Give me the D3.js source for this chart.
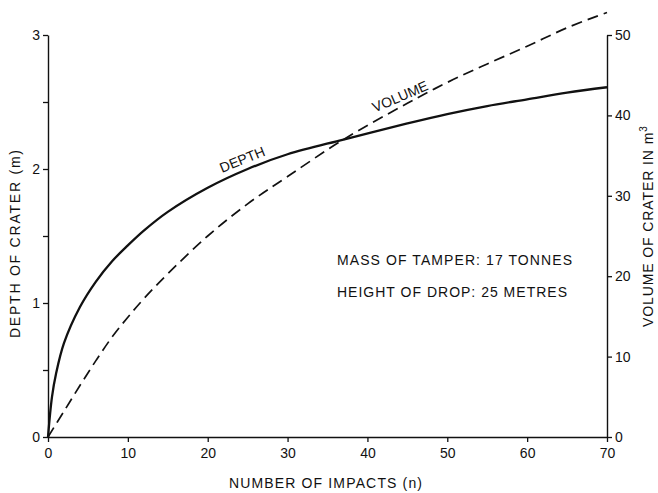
<!DOCTYPE html>
<html>
<head>
<meta charset="utf-8">
<script src="https://cdn.jsdelivr.net/npm/d3@7"></script>
<style>
  body { margin: 0; background: #fff; }
  text { font-family: "Liberation Sans", Arial, sans-serif; fill: #111; }
</style>
</head>
<body>
<svg id="chart" width="658" height="493"></svg>
<script>
// Crater depth (m) against number of impacts
const impactsDepth = [0, 0.5, 1, 2, 4, 6, 8, 10, 12, 15, 20, 25, 30, 37, 45, 50, 55, 60, 65, 70];
const depthM       = [0, 0.30, 0.47, 0.70, 0.97, 1.16, 1.31, 1.43, 1.54, 1.68, 1.86, 2.00, 2.11, 2.22, 2.34, 2.41, 2.47, 2.52, 2.57, 2.61];

// Crater volume (m3) against number of impacts
const impactsVolume = [0, 2, 4, 6, 8, 10, 12, 15, 20, 25, 30, 37, 45, 50, 55, 60, 65, 70];
const volumeM3      = [0, 3.2, 6.4, 9.5, 12.4, 14.9, 17.2, 20.3, 25.0, 29.0, 32.4, 37.0, 41.5, 44.1, 46.4, 48.6, 50.9, 52.8];

const xTicks      = [0, 10, 20, 30, 40, 50, 60, 70];
const depthTicks  = [0, 0.5, 1, 1.5, 2, 2.5, 3];
const depthLabels = [0, 1, 2, 3];
const volumeTicks = [0, 10, 20, 30, 40, 50];

const svg = d3.select("#chart");
const ink = "#111";

const x  = d3.scaleLinear().domain([0, 70]).range([48, 607]);
const yD = d3.scaleLinear().domain([0, 3]).range([437, 35]);
const yV = d3.scaleLinear().domain([0, 50]).range([437, 35]);

function styleAxis(g) {
  g.selectAll("path.domain").attr("stroke", ink).attr("stroke-width", 1.4);
  g.selectAll(".tick line").attr("stroke", ink).attr("stroke-width", 1.3);
  g.selectAll(".tick text").attr("font-size", 14).attr("fill", ink)
    .style("font-family", "'Liberation Sans', Arial, sans-serif");
}

// bottom axis
svg.append("g")
  .attr("transform", `translate(0,${yD(0)})`)
  .call(d3.axisBottom(x).tickValues(xTicks).tickSize(5).tickSizeOuter(0).tickPadding(6))
  .call(styleAxis);

// left axis (depth), half-metre minor ticks without labels
svg.append("g")
  .attr("transform", `translate(${x(0)},0)`)
  .call(d3.axisLeft(yD).tickValues(depthTicks).tickSize(5).tickSizeOuter(0).tickPadding(3)
    .tickFormat(d => depthLabels.includes(d) ? d3.format("d")(d) : ""))
  .call(styleAxis);

// right axis (volume)
svg.append("g")
  .attr("transform", `translate(${x(70)},0)`)
  .call(d3.axisRight(yV).tickValues(volumeTicks).tickSize(5).tickSizeOuter(0).tickPadding(3)
    .tickFormat(d3.format("d")))
  .call(styleAxis);

// curves
const depthLine = d3.line()
  .x((d, i) => x(impactsDepth[i]))
  .y(d => yD(d))
  .curve(d3.curveCatmullRom.alpha(0.5));

const volumeLine = d3.line()
  .x((d, i) => x(impactsVolume[i]))
  .y(d => yV(d))
  .curve(d3.curveCatmullRom.alpha(0.5));

svg.append("path")
  .attr("d", volumeLine(volumeM3))
  .attr("fill", "none")
  .attr("stroke", ink)
  .attr("stroke-width", 1.7)
  .attr("stroke-dasharray", "11,6");

svg.append("path")
  .attr("d", depthLine(depthM))
  .attr("fill", "none")
  .attr("stroke", ink)
  .attr("stroke-width", 2.3);

// curve labels
svg.append("text")
  .attr("transform", "translate(244,164) rotate(-22)")
  .attr("text-anchor", "middle")
  .attr("font-size", 14)
  .text("DEPTH");

svg.append("text")
  .attr("transform", "translate(402,101) rotate(-23)")
  .attr("text-anchor", "middle")
  .attr("font-size", 14)
  .text("VOLUME");

// axis titles
svg.append("text")
  .attr("x", 229).attr("y", 488)
  .attr("font-size", 14)
  .attr("textLength", 193).attr("lengthAdjust", "spacing")
  .text("NUMBER OF IMPACTS (n)");

svg.append("text")
  .attr("transform", "translate(20,338) rotate(-90)")
  .attr("font-size", 14)
  .attr("textLength", 188).attr("lengthAdjust", "spacing")
  .text("DEPTH OF CRATER (m)");

const vTitle = svg.append("text")
  .attr("transform", "translate(653,327) rotate(-90)")
  .attr("font-size", 14)
  .attr("letter-spacing", 0.9);
vTitle.append("tspan").text("VOLUME  OF  CRATER  IN  m");
vTitle.append("tspan").attr("dy", -6).attr("font-size", 10).text("3");

// annotation
svg.append("text")
  .attr("x", 337).attr("y", 265)
  .attr("font-size", 14)
  .attr("textLength", 235).attr("lengthAdjust", "spacing")
  .text("MASS OF TAMPER: 17 TONNES");

svg.append("text")
  .attr("x", 337).attr("y", 297)
  .attr("font-size", 14)
  .attr("textLength", 230).attr("lengthAdjust", "spacing")
  .text("HEIGHT OF DROP: 25 METRES");
</script>
</body>
</html>
